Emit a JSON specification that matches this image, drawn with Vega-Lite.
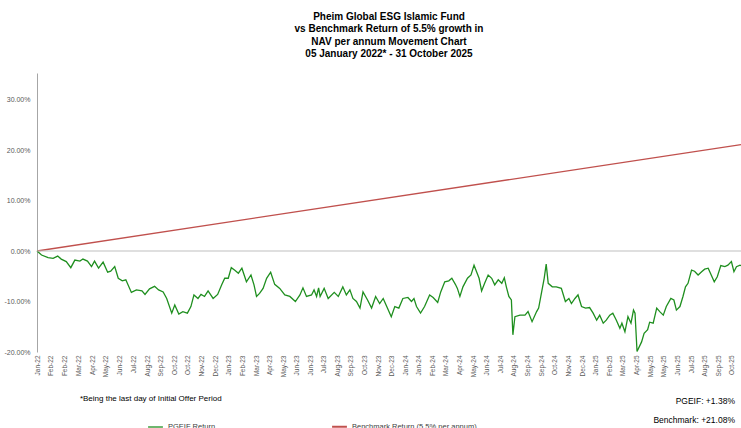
{
  "$schema": "https://vega.github.io/schema/vega-lite/v6.json",
  "width": 704,
  "height": 279,
  "autosize": {"type": "none"},
  "padding": {"left": 37, "top": 73, "right": 0, "bottom": 76},
  "background": "white",
  "config": {
    "view": {"stroke": null},
    "font": "Liberation Sans",
    "axis": {"grid": false, "ticks": false, "title": null}
  },
  "title": {
    "text": ["Pheim Global ESG Islamic Fund", "vs Benchmark Return of 5.5%  growth in", "NAV per annum Movement Chart", "05 January 2022* - 31 October 2025"],
    "fontSize": 10,
    "fontWeight": "bold",
    "color": "#000000",
    "anchor": "middle",
    "frame": "group",
    "offset": 14,
    "lineHeight": 12.4,
    "font": "Liberation Sans"
  },
  "datasets": {
    "returns": [
      {"date": "2022-01-05", "series": "Benchmark Return (5.5% per annum)", "value": 0},
      {"date": "2025-10-31", "series": "Benchmark Return (5.5% per annum)", "value": 21.08},
      {"date": "2022-01-05", "series": "PGEIF Return", "value": 0},
      {"date": "2022-01-14", "series": "PGEIF Return", "value": -0.8},
      {"date": "2022-01-27", "series": "PGEIF Return", "value": -1.3},
      {"date": "2022-02-06", "series": "PGEIF Return", "value": -1.45},
      {"date": "2022-02-15", "series": "PGEIF Return", "value": -1.0},
      {"date": "2022-02-22", "series": "PGEIF Return", "value": -1.6},
      {"date": "2022-03-04", "series": "PGEIF Return", "value": -2.1},
      {"date": "2022-03-13", "series": "PGEIF Return", "value": -3.3},
      {"date": "2022-03-21", "series": "PGEIF Return", "value": -1.8},
      {"date": "2022-03-31", "series": "PGEIF Return", "value": -2.0},
      {"date": "2022-04-06", "series": "PGEIF Return", "value": -1.6},
      {"date": "2022-04-15", "series": "PGEIF Return", "value": -2.0},
      {"date": "2022-04-23", "series": "PGEIF Return", "value": -3.1},
      {"date": "2022-04-29", "series": "PGEIF Return", "value": -2.0},
      {"date": "2022-05-07", "series": "PGEIF Return", "value": -3.4},
      {"date": "2022-05-16", "series": "PGEIF Return", "value": -2.2},
      {"date": "2022-05-25", "series": "PGEIF Return", "value": -4.2},
      {"date": "2022-05-31", "series": "PGEIF Return", "value": -4.0},
      {"date": "2022-06-08", "series": "PGEIF Return", "value": -3.1},
      {"date": "2022-06-15", "series": "PGEIF Return", "value": -5.4},
      {"date": "2022-06-23", "series": "PGEIF Return", "value": -5.9},
      {"date": "2022-06-30", "series": "PGEIF Return", "value": -5.7},
      {"date": "2022-07-11", "series": "PGEIF Return", "value": -8.2},
      {"date": "2022-07-21", "series": "PGEIF Return", "value": -7.7},
      {"date": "2022-08-01", "series": "PGEIF Return", "value": -7.9},
      {"date": "2022-08-07", "series": "PGEIF Return", "value": -8.6},
      {"date": "2022-08-16", "series": "PGEIF Return", "value": -7.5},
      {"date": "2022-08-26", "series": "PGEIF Return", "value": -7.0},
      {"date": "2022-09-03", "series": "PGEIF Return", "value": -7.7},
      {"date": "2022-09-12", "series": "PGEIF Return", "value": -8.1},
      {"date": "2022-09-19", "series": "PGEIF Return", "value": -9.4},
      {"date": "2022-09-29", "series": "PGEIF Return", "value": -12.3},
      {"date": "2022-10-05", "series": "PGEIF Return", "value": -10.7},
      {"date": "2022-10-13", "series": "PGEIF Return", "value": -12.5},
      {"date": "2022-10-21", "series": "PGEIF Return", "value": -12.0},
      {"date": "2022-10-30", "series": "PGEIF Return", "value": -12.3},
      {"date": "2022-11-06", "series": "PGEIF Return", "value": -11.0},
      {"date": "2022-11-12", "series": "PGEIF Return", "value": -8.7},
      {"date": "2022-11-20", "series": "PGEIF Return", "value": -9.4},
      {"date": "2022-11-26", "series": "PGEIF Return", "value": -8.6},
      {"date": "2022-12-03", "series": "PGEIF Return", "value": -9.0},
      {"date": "2022-12-10", "series": "PGEIF Return", "value": -7.9},
      {"date": "2022-12-20", "series": "PGEIF Return", "value": -9.4},
      {"date": "2022-12-29", "series": "PGEIF Return", "value": -8.6},
      {"date": "2023-01-06", "series": "PGEIF Return", "value": -6.7},
      {"date": "2023-01-12", "series": "PGEIF Return", "value": -5.4},
      {"date": "2023-01-19", "series": "PGEIF Return", "value": -5.4},
      {"date": "2023-01-25", "series": "PGEIF Return", "value": -3.3},
      {"date": "2023-02-01", "series": "PGEIF Return", "value": -3.8},
      {"date": "2023-02-08", "series": "PGEIF Return", "value": -4.4},
      {"date": "2023-02-15", "series": "PGEIF Return", "value": -3.4},
      {"date": "2023-02-24", "series": "PGEIF Return", "value": -6.1},
      {"date": "2023-03-05", "series": "PGEIF Return", "value": -4.75},
      {"date": "2023-03-11", "series": "PGEIF Return", "value": -6.7},
      {"date": "2023-03-16", "series": "PGEIF Return", "value": -9.0},
      {"date": "2023-03-22", "series": "PGEIF Return", "value": -8.4},
      {"date": "2023-03-29", "series": "PGEIF Return", "value": -7.4},
      {"date": "2023-04-05", "series": "PGEIF Return", "value": -5.4},
      {"date": "2023-04-13", "series": "PGEIF Return", "value": -4.2},
      {"date": "2023-04-21", "series": "PGEIF Return", "value": -6.6},
      {"date": "2023-05-01", "series": "PGEIF Return", "value": -7.4},
      {"date": "2023-05-11", "series": "PGEIF Return", "value": -8.7},
      {"date": "2023-05-21", "series": "PGEIF Return", "value": -9.0},
      {"date": "2023-06-01", "series": "PGEIF Return", "value": -10.0},
      {"date": "2023-06-10", "series": "PGEIF Return", "value": -8.7},
      {"date": "2023-06-16", "series": "PGEIF Return", "value": -7.3},
      {"date": "2023-06-23", "series": "PGEIF Return", "value": -9.0},
      {"date": "2023-07-03", "series": "PGEIF Return", "value": -8.7},
      {"date": "2023-07-08", "series": "PGEIF Return", "value": -7.7},
      {"date": "2023-07-13", "series": "PGEIF Return", "value": -9.0},
      {"date": "2023-07-17", "series": "PGEIF Return", "value": -7.3},
      {"date": "2023-07-20", "series": "PGEIF Return", "value": -9.0},
      {"date": "2023-07-28", "series": "PGEIF Return", "value": -7.4},
      {"date": "2023-08-05", "series": "PGEIF Return", "value": -9.4},
      {"date": "2023-08-17", "series": "PGEIF Return", "value": -8.2},
      {"date": "2023-08-25", "series": "PGEIF Return", "value": -9.0},
      {"date": "2023-09-03", "series": "PGEIF Return", "value": -7.1},
      {"date": "2023-09-10", "series": "PGEIF Return", "value": -8.7},
      {"date": "2023-09-17", "series": "PGEIF Return", "value": -7.7},
      {"date": "2023-09-23", "series": "PGEIF Return", "value": -9.4},
      {"date": "2023-09-30", "series": "PGEIF Return", "value": -10.0},
      {"date": "2023-10-07", "series": "PGEIF Return", "value": -11.3},
      {"date": "2023-10-13", "series": "PGEIF Return", "value": -8.1},
      {"date": "2023-10-22", "series": "PGEIF Return", "value": -9.7},
      {"date": "2023-10-30", "series": "PGEIF Return", "value": -11.3},
      {"date": "2023-11-07", "series": "PGEIF Return", "value": -9.0},
      {"date": "2023-11-15", "series": "PGEIF Return", "value": -10.4},
      {"date": "2023-11-22", "series": "PGEIF Return", "value": -9.4},
      {"date": "2023-11-29", "series": "PGEIF Return", "value": -11.0},
      {"date": "2023-12-08", "series": "PGEIF Return", "value": -13.0},
      {"date": "2023-12-15", "series": "PGEIF Return", "value": -11.0},
      {"date": "2023-12-23", "series": "PGEIF Return", "value": -11.3},
      {"date": "2023-12-31", "series": "PGEIF Return", "value": -9.4},
      {"date": "2024-01-10", "series": "PGEIF Return", "value": -9.2},
      {"date": "2024-01-17", "series": "PGEIF Return", "value": -10.0},
      {"date": "2024-01-22", "series": "PGEIF Return", "value": -9.4},
      {"date": "2024-01-27", "series": "PGEIF Return", "value": -11.0},
      {"date": "2024-02-04", "series": "PGEIF Return", "value": -12.3},
      {"date": "2024-02-12", "series": "PGEIF Return", "value": -11.0},
      {"date": "2024-02-22", "series": "PGEIF Return", "value": -8.7},
      {"date": "2024-02-29", "series": "PGEIF Return", "value": -9.2},
      {"date": "2024-03-09", "series": "PGEIF Return", "value": -10.2},
      {"date": "2024-03-15", "series": "PGEIF Return", "value": -8.1},
      {"date": "2024-03-23", "series": "PGEIF Return", "value": -6.1},
      {"date": "2024-03-31", "series": "PGEIF Return", "value": -5.9},
      {"date": "2024-04-06", "series": "PGEIF Return", "value": -5.4},
      {"date": "2024-04-13", "series": "PGEIF Return", "value": -6.6},
      {"date": "2024-04-17", "series": "PGEIF Return", "value": -7.4},
      {"date": "2024-04-22", "series": "PGEIF Return", "value": -9.0},
      {"date": "2024-04-28", "series": "PGEIF Return", "value": -7.1},
      {"date": "2024-05-07", "series": "PGEIF Return", "value": -5.4},
      {"date": "2024-05-14", "series": "PGEIF Return", "value": -4.75},
      {"date": "2024-05-20", "series": "PGEIF Return", "value": -2.8},
      {"date": "2024-05-25", "series": "PGEIF Return", "value": -4.1},
      {"date": "2024-05-30", "series": "PGEIF Return", "value": -5.4},
      {"date": "2024-06-04", "series": "PGEIF Return", "value": -7.9},
      {"date": "2024-06-10", "series": "PGEIF Return", "value": -6.4},
      {"date": "2024-06-17", "series": "PGEIF Return", "value": -4.75},
      {"date": "2024-06-24", "series": "PGEIF Return", "value": -5.4},
      {"date": "2024-06-30", "series": "PGEIF Return", "value": -6.7},
      {"date": "2024-07-07", "series": "PGEIF Return", "value": -5.7},
      {"date": "2024-07-14", "series": "PGEIF Return", "value": -6.4},
      {"date": "2024-07-19", "series": "PGEIF Return", "value": -5.3},
      {"date": "2024-07-23", "series": "PGEIF Return", "value": -7.1},
      {"date": "2024-07-28", "series": "PGEIF Return", "value": -9.0},
      {"date": "2024-08-02", "series": "PGEIF Return", "value": -9.7},
      {"date": "2024-08-05", "series": "PGEIF Return", "value": -16.6},
      {"date": "2024-08-09", "series": "PGEIF Return", "value": -13.0},
      {"date": "2024-08-19", "series": "PGEIF Return", "value": -12.7},
      {"date": "2024-08-29", "series": "PGEIF Return", "value": -12.7},
      {"date": "2024-09-04", "series": "PGEIF Return", "value": -12.0},
      {"date": "2024-09-12", "series": "PGEIF Return", "value": -14.0},
      {"date": "2024-09-21", "series": "PGEIF Return", "value": -12.0},
      {"date": "2024-09-25", "series": "PGEIF Return", "value": -11.3},
      {"date": "2024-10-01", "series": "PGEIF Return", "value": -8.1},
      {"date": "2024-10-06", "series": "PGEIF Return", "value": -5.4},
      {"date": "2024-10-10", "series": "PGEIF Return", "value": -2.6},
      {"date": "2024-10-14", "series": "PGEIF Return", "value": -6.4},
      {"date": "2024-10-22", "series": "PGEIF Return", "value": -7.1},
      {"date": "2024-10-30", "series": "PGEIF Return", "value": -7.1},
      {"date": "2024-11-09", "series": "PGEIF Return", "value": -7.4},
      {"date": "2024-11-17", "series": "PGEIF Return", "value": -10.0},
      {"date": "2024-11-24", "series": "PGEIF Return", "value": -9.4},
      {"date": "2024-11-29", "series": "PGEIF Return", "value": -10.4},
      {"date": "2024-12-06", "series": "PGEIF Return", "value": -9.4},
      {"date": "2024-12-12", "series": "PGEIF Return", "value": -8.7},
      {"date": "2024-12-19", "series": "PGEIF Return", "value": -11.0},
      {"date": "2024-12-27", "series": "PGEIF Return", "value": -11.3},
      {"date": "2025-01-04", "series": "PGEIF Return", "value": -11.2},
      {"date": "2025-01-11", "series": "PGEIF Return", "value": -12.3},
      {"date": "2025-01-18", "series": "PGEIF Return", "value": -13.7},
      {"date": "2025-01-24", "series": "PGEIF Return", "value": -12.7},
      {"date": "2025-01-31", "series": "PGEIF Return", "value": -14.3},
      {"date": "2025-02-06", "series": "PGEIF Return", "value": -13.7},
      {"date": "2025-02-13", "series": "PGEIF Return", "value": -12.7},
      {"date": "2025-02-19", "series": "PGEIF Return", "value": -12.3},
      {"date": "2025-02-26", "series": "PGEIF Return", "value": -13.7},
      {"date": "2025-03-05", "series": "PGEIF Return", "value": -15.3},
      {"date": "2025-03-09", "series": "PGEIF Return", "value": -14.3},
      {"date": "2025-03-15", "series": "PGEIF Return", "value": -16.0},
      {"date": "2025-03-21", "series": "PGEIF Return", "value": -13.0},
      {"date": "2025-03-27", "series": "PGEIF Return", "value": -14.3},
      {"date": "2025-04-01", "series": "PGEIF Return", "value": -11.7},
      {"date": "2025-04-04", "series": "PGEIF Return", "value": -12.3},
      {"date": "2025-04-08", "series": "PGEIF Return", "value": -19.9},
      {"date": "2025-04-17", "series": "PGEIF Return", "value": -18.0},
      {"date": "2025-04-22", "series": "PGEIF Return", "value": -16.3},
      {"date": "2025-04-29", "series": "PGEIF Return", "value": -15.6},
      {"date": "2025-05-03", "series": "PGEIF Return", "value": -14.1},
      {"date": "2025-05-10", "series": "PGEIF Return", "value": -14.3},
      {"date": "2025-05-17", "series": "PGEIF Return", "value": -11.3},
      {"date": "2025-05-23", "series": "PGEIF Return", "value": -12.0},
      {"date": "2025-05-30", "series": "PGEIF Return", "value": -12.7},
      {"date": "2025-06-05", "series": "PGEIF Return", "value": -11.0},
      {"date": "2025-06-14", "series": "PGEIF Return", "value": -9.4},
      {"date": "2025-06-20", "series": "PGEIF Return", "value": -9.7},
      {"date": "2025-06-25", "series": "PGEIF Return", "value": -11.7},
      {"date": "2025-07-02", "series": "PGEIF Return", "value": -11.0},
      {"date": "2025-07-08", "series": "PGEIF Return", "value": -9.0},
      {"date": "2025-07-13", "series": "PGEIF Return", "value": -7.1},
      {"date": "2025-07-18", "series": "PGEIF Return", "value": -6.4},
      {"date": "2025-07-25", "series": "PGEIF Return", "value": -3.8},
      {"date": "2025-07-31", "series": "PGEIF Return", "value": -4.0},
      {"date": "2025-08-07", "series": "PGEIF Return", "value": -4.75},
      {"date": "2025-08-14", "series": "PGEIF Return", "value": -4.1},
      {"date": "2025-08-20", "series": "PGEIF Return", "value": -3.6},
      {"date": "2025-08-27", "series": "PGEIF Return", "value": -3.4},
      {"date": "2025-09-02", "series": "PGEIF Return", "value": -4.75},
      {"date": "2025-09-08", "series": "PGEIF Return", "value": -6.1},
      {"date": "2025-09-14", "series": "PGEIF Return", "value": -5.1},
      {"date": "2025-09-21", "series": "PGEIF Return", "value": -2.9},
      {"date": "2025-09-29", "series": "PGEIF Return", "value": -3.1},
      {"date": "2025-10-05", "series": "PGEIF Return", "value": -2.8},
      {"date": "2025-10-12", "series": "PGEIF Return", "value": -2.1},
      {"date": "2025-10-17", "series": "PGEIF Return", "value": -4.1},
      {"date": "2025-10-22", "series": "PGEIF Return", "value": -3.1},
      {"date": "2025-10-29", "series": "PGEIF Return", "value": -2.8},
      {"date": "2025-10-31", "series": "PGEIF Return", "value": -2.9}
    ],
    "footnote": [
      {"date": "2022-03-31", "value": -29.3, "label": "*Being the last day of Initial Offer Period"}
    ],
    "summary": [
      {"date": "2025-10-19", "value": -29.7, "label": "PGEIF: +1.38%"},
      {"date": "2025-10-19", "value": -33.4, "label": "Benchmark: +21.08%"}
    ]
  },
  "layer": [
    {
      "data": {"name": "returns"},
      "mark": {"type": "line", "strokeWidth": 1.3, "interpolate": "linear"},
      "encoding": {
        "x": {
          "field": "date",
          "type": "temporal",
          "scale": {"type": "utc", "domain": [{"year": 2022, "month": 1, "date": 5, "utc": true}, {"year": 2025, "month": 10, "date": 31, "utc": true}]},
          "axis": {
            "title": null,
            "domain": false,
            "ticks": false,
            "grid": false,
            "format": "%b-%y",
            "labelAngle": -90,
            "labelFontSize": 6.5,
            "labelColor": "#595959",
            "labelPadding": 3,
            "labelOverlap": false,
            "labelFlush": false,
            "tickCount": 80,
            "values": [
              {"year": 2022, "month": 1, "date": 5, "utc": true},
              {"year": 2022, "month": 2, "date": 1, "utc": true},
              {"year": 2022, "month": 2, "date": 28, "utc": true},
              {"year": 2022, "month": 3, "date": 28, "utc": true},
              {"year": 2022, "month": 4, "date": 24, "utc": true},
              {"year": 2022, "month": 5, "date": 21, "utc": true},
              {"year": 2022, "month": 6, "date": 18, "utc": true},
              {"year": 2022, "month": 7, "date": 15, "utc": true},
              {"year": 2022, "month": 8, "date": 11, "utc": true},
              {"year": 2022, "month": 9, "date": 7, "utc": true},
              {"year": 2022, "month": 10, "date": 4, "utc": true},
              {"year": 2022, "month": 10, "date": 31, "utc": true},
              {"year": 2022, "month": 11, "date": 27, "utc": true},
              {"year": 2022, "month": 12, "date": 24, "utc": true},
              {"year": 2023, "month": 1, "date": 20, "utc": true},
              {"year": 2023, "month": 2, "date": 16, "utc": true},
              {"year": 2023, "month": 3, "date": 15, "utc": true},
              {"year": 2023, "month": 4, "date": 11, "utc": true},
              {"year": 2023, "month": 5, "date": 8, "utc": true},
              {"year": 2023, "month": 6, "date": 4, "utc": true},
              {"year": 2023, "month": 6, "date": 30, "utc": true},
              {"year": 2023, "month": 7, "date": 27, "utc": true},
              {"year": 2023, "month": 8, "date": 23, "utc": true},
              {"year": 2023, "month": 9, "date": 19, "utc": true},
              {"year": 2023, "month": 10, "date": 16, "utc": true},
              {"year": 2023, "month": 11, "date": 12, "utc": true},
              {"year": 2023, "month": 12, "date": 9, "utc": true},
              {"year": 2024, "month": 1, "date": 5, "utc": true},
              {"year": 2024, "month": 1, "date": 31, "utc": true},
              {"year": 2024, "month": 2, "date": 27, "utc": true},
              {"year": 2024, "month": 3, "date": 25, "utc": true},
              {"year": 2024, "month": 4, "date": 21, "utc": true},
              {"year": 2024, "month": 5, "date": 18, "utc": true},
              {"year": 2024, "month": 6, "date": 14, "utc": true},
              {"year": 2024, "month": 7, "date": 11, "utc": true},
              {"year": 2024, "month": 8, "date": 7, "utc": true},
              {"year": 2024, "month": 9, "date": 3, "utc": true},
              {"year": 2024, "month": 9, "date": 30, "utc": true},
              {"year": 2024, "month": 10, "date": 27, "utc": true},
              {"year": 2024, "month": 11, "date": 23, "utc": true},
              {"year": 2024, "month": 12, "date": 20, "utc": true},
              {"year": 2025, "month": 1, "date": 16, "utc": true},
              {"year": 2025, "month": 2, "date": 12, "utc": true},
              {"year": 2025, "month": 3, "date": 11, "utc": true},
              {"year": 2025, "month": 4, "date": 7, "utc": true},
              {"year": 2025, "month": 5, "date": 4, "utc": true},
              {"year": 2025, "month": 5, "date": 31, "utc": true},
              {"year": 2025, "month": 6, "date": 27, "utc": true},
              {"year": 2025, "month": 7, "date": 24, "utc": true},
              {"year": 2025, "month": 8, "date": 20, "utc": true},
              {"year": 2025, "month": 9, "date": 16, "utc": true},
              {"year": 2025, "month": 10, "date": 13, "utc": true}
            ]
          }
        },
        "y": {
          "field": "value",
          "type": "quantitative",
          "scale": {"domain": [-20, 35.25], "nice": false, "zero": false},
          "axis": {
            "title": null,
            "grid": false,
            "ticks": false,
            "domainColor": "#a6a6a6",
            "domainWidth": 1,
            "values": [-20, -10, 0, 10, 20, 30],
            "labelExpr": "(datum.value < 0 ? '-' : '') + format(abs(datum.value), '.2f') + '%'",
            "labelFontSize": 7,
            "labelColor": "#595959",
            "labelPadding": 7
          }
        },
        "color": {
          "field": "series",
          "type": "nominal",
          "scale": {"domain": ["PGEIF Return", "Benchmark Return (5.5% per annum)"], "range": ["#1f8f1f", "#c0504d"]},
          "legend": {
            "orient": "none",
            "legendX": 110,
            "legendY": 345,
            "direction": "horizontal",
            "title": null,
            "symbolType": "stroke",
            "symbolStrokeWidth": 2,
            "symbolSize": 220,
            "labelFontSize": 7.5,
            "labelColor": "#404040",
            "columnPadding": 112
          }
        },
        "strokeWidth": {
          "field": "series",
          "type": "nominal",
          "scale": {"domain": ["PGEIF Return", "Benchmark Return (5.5% per annum)"], "range": [1.3, 2]},
          "legend": null
        }
      }
    },
    {
      "data": {"values": [{"value": 0}]},
      "mark": {"type": "rule", "color": "#bfbfbf", "strokeWidth": 1},
      "encoding": {"y": {"field": "value", "type": "quantitative"}}
    },
    {
      "data": {"name": "footnote"},
      "mark": {"type": "text", "align": "left", "baseline": "middle", "fontSize": 8, "color": "#000000"},
      "encoding": {
        "x": {"field": "date", "type": "temporal"},
        "y": {"field": "value", "type": "quantitative"},
        "text": {"field": "label"}
      }
    },
    {
      "data": {"name": "summary"},
      "mark": {"type": "text", "align": "right", "baseline": "middle", "fontSize": 8.5, "color": "#000000"},
      "encoding": {
        "x": {"field": "date", "type": "temporal"},
        "y": {"field": "value", "type": "quantitative"},
        "text": {"field": "label"}
      }
    }
  ]
}
